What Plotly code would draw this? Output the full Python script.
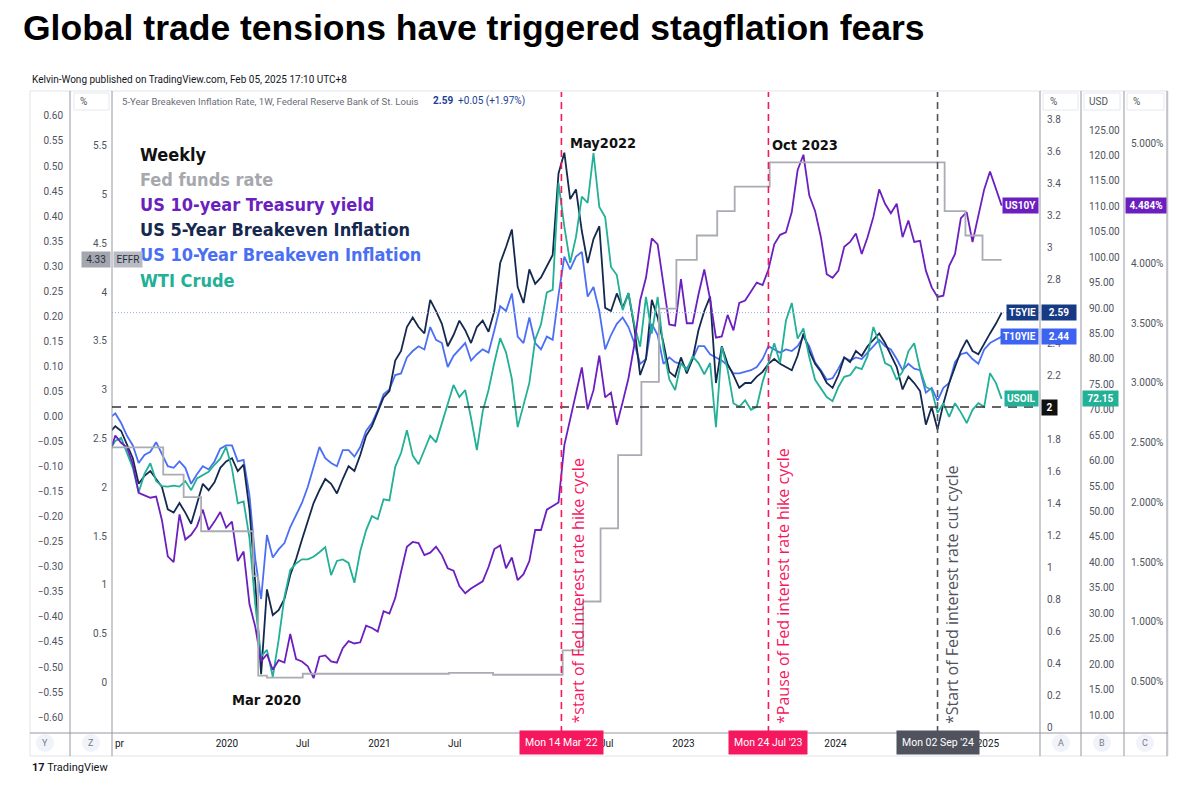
import pandas as pd
import plotly.graph_objects as go

W, H = 1200, 790
def fx(p): return p / W
def fy(p): return 1 - p / H

# ---------------- data (bi-weekly closes) ----------------
dates = pd.date_range("2019-03-25", periods=154, freq="14D")

us10y = [2.41,2.56,2.50,2.46,2.32,2.08,2.06,2.04,2.05,1.85,
         1.55,1.50,1.90,1.69,1.73,1.80,1.94,1.77,1.84,1.92,
         1.79,1.84,1.51,1.59,1.15,0.96,0.67,0.73,0.60,0.68,
         0.66,0.90,0.69,0.67,0.63,0.53,0.71,0.72,0.67,0.66,
         0.78,0.84,0.82,0.83,0.97,0.95,0.92,1.09,1.07,1.20,
         1.42,1.63,1.67,1.66,1.56,1.58,1.63,1.56,1.45,1.43,
         1.30,1.24,1.28,1.31,1.34,1.46,1.61,1.64,1.45,1.54,
         1.35,1.40,1.51,1.77,1.77,1.94,1.97,2.00,2.48,2.70,
         2.90,3.13,2.78,2.94,3.23,2.88,2.92,2.65,2.84,3.04,
         3.32,3.69,3.88,4.21,4.16,3.83,3.49,3.48,3.87,3.50,
         3.50,3.74,3.95,3.70,3.38,3.39,3.57,3.44,3.67,3.69,
         3.76,3.84,3.82,3.95,4.16,4.24,4.26,4.43,4.78,4.91,
         4.57,4.44,4.22,3.91,3.88,3.94,4.14,4.18,4.25,4.08,
         4.22,4.39,4.62,4.50,4.42,4.50,4.22,4.36,4.18,4.19,
         3.94,3.80,3.72,3.73,3.98,4.08,4.38,4.43,4.18,4.40,
         4.62,4.77,4.62,4.484]

t5yie = [1.84,1.88,1.85,1.76,1.68,1.52,1.57,1.60,1.55,1.50,
         1.36,1.34,1.40,1.34,1.27,1.40,1.52,1.48,1.53,1.62,
         1.66,1.68,1.60,1.64,1.36,0.90,0.33,0.86,0.70,0.73,
         0.80,0.95,1.05,1.17,1.28,1.40,1.48,1.55,1.52,1.46,
         1.55,1.63,1.60,1.70,1.82,1.88,1.97,2.06,2.10,2.29,
         2.35,2.50,2.56,2.50,2.46,2.67,2.60,2.52,2.38,2.45,
         2.54,2.48,2.40,2.50,2.54,2.47,2.60,2.90,3.00,3.11,
         2.75,2.65,2.86,2.77,2.81,2.88,2.95,3.46,3.59,3.30,
         3.36,3.10,2.90,3.05,3.13,2.62,2.60,2.71,2.62,2.71,
         2.50,2.20,2.30,2.67,2.56,2.40,2.22,2.19,2.31,2.21,
         2.30,2.48,2.60,2.69,2.15,2.38,2.27,2.20,2.12,2.15,
         2.15,2.19,2.22,2.27,2.30,2.27,2.25,2.23,2.32,2.46,
         2.35,2.27,2.22,2.15,2.12,2.20,2.31,2.28,2.35,2.32,
         2.38,2.42,2.46,2.40,2.33,2.25,2.11,2.19,2.15,2.10,
         1.89,2.00,1.86,2.02,2.15,2.25,2.35,2.42,2.35,2.33,
         2.40,2.46,2.52,2.59]

t10yie = [1.93,1.96,1.90,1.82,1.76,1.65,1.70,1.72,1.78,1.70,
          1.63,1.62,1.66,1.62,1.52,1.58,1.63,1.61,1.66,1.74,
          1.76,1.76,1.66,1.67,1.45,1.05,0.80,1.20,1.06,1.11,
          1.15,1.25,1.32,1.40,1.50,1.62,1.75,1.68,1.65,1.63,
          1.73,1.73,1.69,1.75,1.85,1.90,1.98,2.08,2.11,2.20,
          2.21,2.31,2.35,2.38,2.36,2.50,2.42,2.40,2.25,2.32,
          2.36,2.40,2.29,2.33,2.36,2.34,2.48,2.63,2.60,2.71,
          2.44,2.40,2.56,2.40,2.36,2.44,2.42,2.70,2.94,2.86,
          2.94,2.97,2.69,2.75,2.60,2.36,2.45,2.52,2.56,2.50,
          2.40,2.27,2.30,2.52,2.45,2.27,2.31,2.28,2.27,2.24,
          2.30,2.38,2.38,2.33,2.31,2.29,2.26,2.21,2.21,2.22,
          2.23,2.25,2.30,2.38,2.36,2.34,2.36,2.35,2.38,2.44,
          2.38,2.28,2.23,2.17,2.18,2.24,2.31,2.29,2.31,2.30,
          2.34,2.38,2.42,2.38,2.36,2.30,2.23,2.27,2.24,2.23,
          2.09,2.12,2.04,2.12,2.15,2.28,2.33,2.34,2.30,2.27,
          2.36,2.40,2.42,2.44]

wti = [62.0,63.9,64.5,61.7,58.6,53.8,57.4,59.5,56.0,55.0,
       54.9,55.1,54.9,56.0,54.2,56.5,57.2,57.8,59.2,60.4,
       62.7,58.5,51.6,52.0,44.8,31.7,21.5,22.8,17.5,24.7,
       33.2,38.5,39.8,40.6,40.6,41.1,42.0,43.0,37.5,40.3,
       40.6,39.9,36.0,42.2,46.3,49.1,48.5,52.4,52.2,58.8,
       61.5,66.0,61.0,59.3,62.1,64.9,63.6,67.5,71.3,74.9,
       72.5,73.9,68.4,62.1,69.7,73.9,79.3,84.1,81.3,76.1,
       66.6,71.0,75.3,83.8,86.8,93.1,93.6,114.6,106.0,98.9,
       104.0,111.9,110.7,120.5,109.9,107.9,98.1,96.5,89.6,93.0,
       86.8,82.4,92.2,85.0,92.2,82.0,76.0,73.9,79.2,77.8,
       80.5,79.2,77.0,79.2,66.6,82.4,77.9,71.3,70.6,71.9,
       70.0,70.6,75.5,79.2,83.1,79.2,87.5,91.0,84.0,86.0,
       80.4,75.9,74.1,72.5,71.7,74.5,76.5,76.8,78.4,78.0,
       80.6,86.3,83.1,79.2,78.6,75.9,77.5,81.5,83.1,78.0,
       74.5,73.9,69.4,71.3,68.6,71.3,69.5,67.4,70.0,71.3,
       70.6,77.2,75.3,72.15]

effr_dates = ["2019-03-25","2019-08-01","2019-09-19","2019-10-31","2020-03-04",
              "2020-03-16","2020-04-06","2020-07-01","2021-06-17","2021-10-01",
              "2022-03-17","2022-05-05","2022-06-16","2022-07-28","2022-09-22",
              "2022-11-03","2022-12-15","2023-02-02","2023-03-23","2023-05-04",
              "2023-07-27","2024-09-19","2024-11-08","2024-12-19","2025-02-03"]
effr_vals = [2.41,2.13,1.90,1.55,1.09,
             0.07,0.05,0.09,0.10,0.08,
             0.33,0.83,1.58,2.33,3.08,
             3.83,4.33,4.58,4.83,5.08,
             5.33,4.83,4.58,4.33,4.33]

x_tickvals = ["2020-01-01","2020-07-01","2021-01-01","2021-07-01","2022-07-01",
              "2023-01-01","2024-01-01","2025-01-01"]
x_ticktext = ["2020","Jul","2021","Jul","Jul","2023","2024","2025"]

events = [("2022-03-14", "Mon 14 Mar '22", "*start of Fed interest rate hike cycle"),
          ("2023-07-24", "Mon 24 Jul '23", "*Pause of Fed interest rate hike cycle"),
          ("2024-09-02", "Mon 02 Sep '24", "*Start of Fed interest rate cut cycle")]

# 2.6 is hidden behind the T5YIE price tag in the original
be_ticks = [round(i * 0.2, 1) for i in range(20) if i != 13]
usd_ticks = [10 + 5 * i for i in range(24)]
y10_ticks = [0.5 * i for i in range(1, 11)]
ff_ticks = [0.5 * i for i in range(12)]
outer_ticks = [round(-0.6 + 0.05 * i, 2) for i in range(25)]

# ---------------- style ----------------
C_T5, C_T10, C_WTI, C_10Y, C_FF = "#15284e", "#4a6ff5", "#22b096", "#6c1fbf", "#a9acb3"
PINK, DGRAY, AXC, SEP = "#f5185f", "#50535e", "#50535e", "#9598a1"
AXF = "Roboto, Liberation Sans, sans-serif"
LEGF = "Verdana, DejaVu Sans Condensed, DejaVu Sans, sans-serif"

fig = go.Figure()
lw = 1.8
fig.add_trace(go.Scatter(x=effr_dates, y=effr_vals, yaxis="y4", mode="lines",
                         line=dict(color=C_FF, width=lw, shape="hv"), hoverinfo="skip"))
fig.add_trace(go.Scatter(x=dates, y=wti, yaxis="y2", mode="lines",
                         line=dict(color=C_WTI, width=lw), hoverinfo="skip"))
fig.add_trace(go.Scatter(x=dates, y=t10yie, yaxis="y", mode="lines",
                         line=dict(color=C_T10, width=lw), hoverinfo="skip"))
fig.add_trace(go.Scatter(x=dates, y=t5yie, yaxis="y", mode="lines",
                         line=dict(color=C_T5, width=lw), hoverinfo="skip"))
fig.add_trace(go.Scatter(x=dates, y=us10y, yaxis="y3", mode="lines",
                         line=dict(color=C_10Y, width=lw), hoverinfo="skip"))
fig.add_trace(go.Scatter(x=[], y=[], yaxis="y5", mode="lines", hoverinfo="skip"))

dom = [fy(733), fy(92)]
common = dict(showgrid=False, zeroline=False, showline=False, ticks="",
              tickfont=dict(family=AXF, size=10, color=AXC), fixedrange=True)

fig.update_layout(
    width=W, height=H, margin=dict(l=0, r=0, t=0, b=0),
    paper_bgcolor="white", plot_bgcolor="white", showlegend=False,
    xaxis=dict(domain=[fx(112), fx(1040)], type="date", range=["2019-03-31", "2025-05-06"],
               tickmode="array", tickvals=x_tickvals, ticktext=x_ticktext,
               ticklabelstandoff=3, **{**common, "tickfont": dict(family=AXF, size=10, color="#131722")}),
    yaxis=dict(domain=dom, range=[-0.0375, 3.969], side="right", anchor="x",
               tickmode="array", tickvals=be_ticks, ticktext=[f"{v:g}" for v in be_ticks],
               ticklabelstandoff=6, **common),
    yaxis2=dict(overlaying="y", range=[6.46, 132.49], side="right", anchor="free", position=fx(1081),
                tickmode="array", tickvals=usd_ticks, ticktext=[f"{v:.2f}" for v in usd_ticks],
                ticklabelstandoff=7, **common),
    yaxis3=dict(overlaying="y", range=[0.0711, 5.435], side="right", anchor="free", position=fx(1124),
                tickmode="array", tickvals=y10_ticks, ticktext=[f"{v:.3f}%" for v in y10_ticks],
                ticklabelstandoff=6, **common),
    yaxis4=dict(overlaying="y", range=[-0.517, 6.05], side="left", anchor="free", position=fx(112),
                tickmode="array", tickvals=ff_ticks, ticktext=[f"{v:g}" for v in ff_ticks],
                ticklabelstandoff=5, **common),
    yaxis5=dict(overlaying="y", range=[-0.6317, 0.6477], side="left", anchor="free", position=fx(70),
                tickmode="array", tickvals=outer_ticks,
                ticktext=[f"{v:.2f}".replace("-", "\u2212") for v in outer_ticks],
                ticklabelstandoff=7, **common),
)

shapes = []
# panel frame + separators
shapes.append(dict(type="rect", xref="paper", yref="paper", x0=fx(30), x1=fx(1168), y0=fy(756), y1=fy(91),
                   line=dict(color="#e0e3eb", width=1), fillcolor="rgba(0,0,0,0)", layer="below"))
for xs in [70, 112, 1040, 1081, 1124, 1167]:
    shapes.append(dict(type="line", xref="paper", yref="paper", x0=fx(xs), x1=fx(xs), y0=fy(756), y1=fy(91),
                       line=dict(color=SEP, width=1)))
shapes.append(dict(type="line", xref="paper", yref="paper", x0=fx(30), x1=fx(1168), y0=fy(733), y1=fy(733),
                   line=dict(color=SEP, width=1)))
# horizontal reference lines
shapes.append(dict(type="line", xref="paper", yref="y", x0=fx(112), x1=fx(1040), y0=2, y1=2,
                   line=dict(color="#333333", width=1.6, dash="9px,7px")))
shapes.append(dict(type="line", xref="paper", yref="y", x0=fx(112), x1=fx(1040), y0=t5yie[-1], y1=t5yie[-1],
                   line=dict(color="#8ea6f7", width=1, dash="1px,2px")))
# event lines
for (d, lab, txt), col in zip(events, [PINK, PINK, DGRAY]):
    shapes.append(dict(type="line", xref="x", yref="paper", x0=d, x1=d, y0=fy(733), y1=fy(92),
                       line=dict(color=col, width=1.6, dash="7px,5px")))
# header unit boxes
for x0, x1 in [(74, 109), (1043, 1078), (1084, 1120), (1127, 1164)]:
    shapes.append(dict(type="rect", xref="paper", yref="paper", x0=fx(x0), x1=fx(x1), y0=fy(110), y1=fy(93),
                       line=dict(color="#e6e8ee", width=1), fillcolor="white"))
# bottom round buttons
for cx in [45, 91, 1061, 1102, 1145]:
    shapes.append(dict(type="circle", xref="paper", yref="paper", x0=fx(cx - 9), x1=fx(cx + 9),
                       y0=fy(752), y1=fy(734), line=dict(width=0), fillcolor="#f0f3fa"))
fig.update_layout(shapes=shapes)

ann = []
def A(**k):
    base = dict(showarrow=False, xref="paper", yref="paper")
    base.update(k)
    ann.append(base)

# title & attribution
A(x=fx(21), y=fy(28), xanchor="left", yanchor="middle",
  text="<b>Global trade tensions have triggered stagflation fears</b>",
  font=dict(family="Liberation Sans, Arial, sans-serif", size=35.5, color="#000000"))
A(x=fx(30), y=fy(80), xanchor="left", yanchor="middle",
  text="Kelvin-Wong published on TradingView.com, Feb 05, 2025 17:10 UTC+8",
  font=dict(family=AXF, size=10, color="#131722"))
A(x=fx(120), y=fy(101), xanchor="left", yanchor="middle",
  text="5-Year Breakeven Inflation Rate, 1W, Federal Reserve Bank of St. Louis",
  font=dict(family=AXF, size=9.6, color="#6a6d78"))
A(x=fx(431), y=fy(101), xanchor="left", yanchor="middle",
  text="<b>2.59</b>  +0.05 (+1.97%)", font=dict(family=AXF, size=10, color="#1c3f94"))
# unit labels
for xc, t in [(83, "%"), (1053, "%"), (1098, "USD"), (1136, "%")]:
    A(x=fx(xc), y=fy(101.5), xanchor="center", yanchor="middle", text=t,
      font=dict(family=AXF, size=10, color="#50535e"))

# legend block
leg = [("<b>Weekly</b>", "#111111"), ("Fed funds rate", "#a6a8ae"),
       ("US 10-year Treasury yield", C_10Y), ("US 5-Year Breakeven Inflation", C_T5),
       ("US 10-Year Breakeven Inflation", C_T10), ("WTI Crude", C_WTI)]
for i, (t, c) in enumerate(leg):
    A(x=fx(138), y=fy(154 + 25.2 * i), xanchor="left", yanchor="middle",
      text=t if t.startswith("<b>") else f"<b>{t}</b>", font=dict(family=LEGF, size=18, color=c))

# event call-outs
for t, xc, yc in [("May2022", 603, 143), ("Oct 2023", 805, 145), ("Mar 2020", 266, 700)]:
    A(x=fx(xc), y=fy(yc), xanchor="center", yanchor="middle", text=f"<b>{t}</b>",
      font=dict(family=LEGF, size=14.5, color="#111111"))

# rotated event notes + date boxes
for (d, lab, txt), col, xc in zip(events, [PINK, PINK, DGRAY], [577, 783, 952]):
    A(x=fx(xc), y=fy(726), xanchor="center", yanchor="bottom", textangle=-90, text=txt,
      font=dict(family="Open Sans, sans-serif", size=16, color=col))
    A(x=d, xref="x", y=fy(742), xanchor="center", yanchor="middle", text=lab,
      bgcolor=col, borderpad=5, font=dict(family=AXF, size=10.5, color="white"))

A(x=fx(113), y=fy(743), xanchor="left", yanchor="middle", text="pr",
  font=dict(family=AXF, size=10, color="#131722"))

# bottom button letters
for cx, t in [(45, "Y"), (91, "Z"), (1061, "A"), (1102, "B"), (1145, "C")]:
    A(x=fx(cx), y=fy(743), xanchor="center", yanchor="middle", text=t,
      font=dict(family=AXF, size=9, color="#787b86"))

A(x=fx(30), y=fy(767), xanchor="left", yanchor="middle", text="<b>17</b> TradingView",
  font=dict(family=AXF, size=11, color="#131722"))

# price tags on the right
def tag(text, xpx, xanchor, y, yref, bg, fg="white", width=None):
    d = dict(x=fx(xpx), xanchor=xanchor, y=y, yref=yref, yanchor="middle", text=text,
             bgcolor=bg, borderpad=2, font=dict(family=AXF, size=10, color=fg))
    if width:
        d["width"] = width
    A(**d)

tag("<b>US10Y</b>", 1039, "right", us10y[-1], "y3", C_10Y)
tag("<b>4.484%</b>", 1125, "left", us10y[-1], "y3", C_10Y, width=36)
tag("<b>T5YIE</b>", 1039, "right", t5yie[-1], "y", "#163a84")
tag("<b>2.59</b>", 1041, "left", t5yie[-1], "y", "#163a84", width=30)
tag("<b>T10YIE</b>", 1039, "right", t10yie[-1], "y", "#3d63f2")
tag("<b>2.44</b>", 1041, "left", t10yie[-1], "y", "#3d63f2", width=30)
tag("<b>USOIL</b>", 1039, "right", wti[-1], "y2", C_WTI)
tag("<b>72.15</b>", 1082, "left", wti[-1], "y2", C_WTI, width=31)
tag("<b>2</b>", 1041, "left", 2, "y", "#111111", width=11)
tag("4.33", 111, "right", effr_vals[-1], "y4", "#a3a6ae", fg="#2a2e39", width=24)
tag("EFFR", 113, "left", effr_vals[-1], "y4", "#b8bbc3", fg="#2a2e39", width=24)

fig.update_layout(annotations=ann)
fig.write_html("out.html")
